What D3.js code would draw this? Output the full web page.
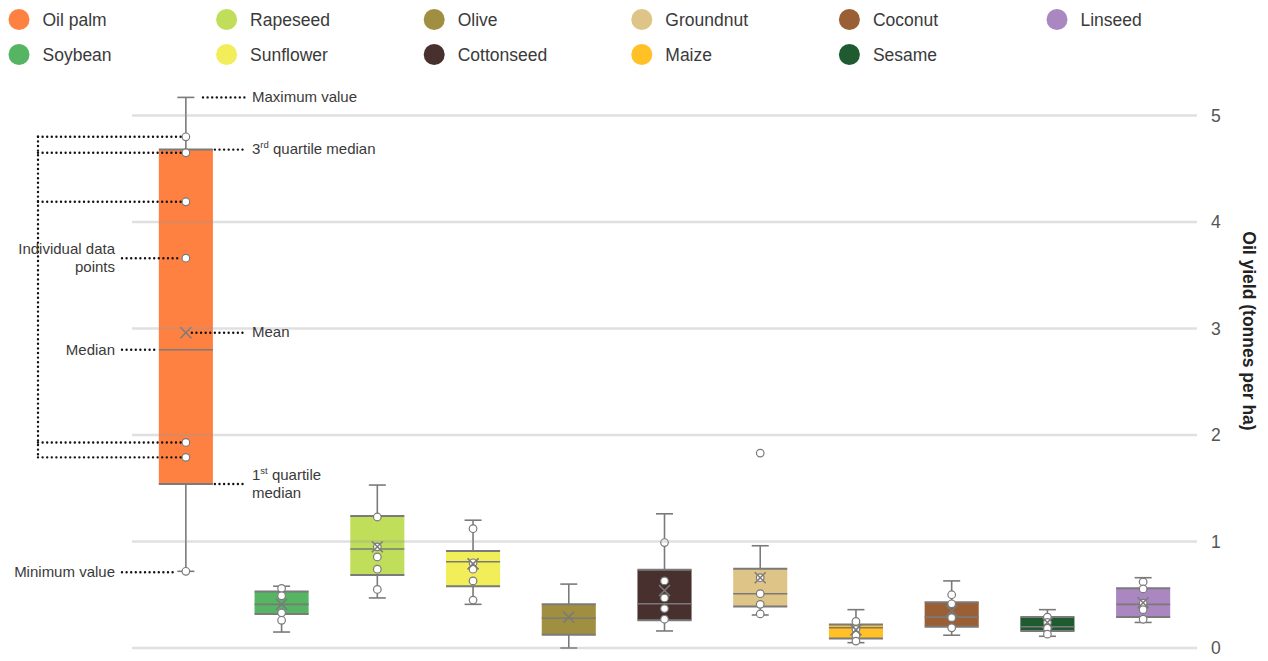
<!DOCTYPE html>
<html>
<head>
<meta charset="utf-8">
<script src="https://cdn.jsdelivr.net/npm/d3@7"></script>
<style>
  html, body { margin: 0; padding: 0; background: #fff; }
  svg { display: block; font-family: "Liberation Sans", Arial, sans-serif; }
</style>
</head>
<body>
<svg id="chart" width="1268" height="661"></svg>
<script>
// Oil crops and their yield distributions (tonnes of oil per hectare)
const categories = ["Oil palm", "Soybean", "Rapeseed", "Sunflower", "Olive", "Cottonseed",
                    "Groundnut", "Maize", "Coconut", "Sesame", "Linseed"];
const colors = ["#FF8142", "#55B563", "#C0DE5A", "#F2EE5A", "#A08F41", "#48302E",
                "#DEC487", "#FFC125", "#9A5F34", "#1F5A30", "#AB87C1"];
const mins    = [0.72, 0.15, 0.47, 0.41, 0.00, 0.16, 0.31, 0.05, 0.12, 0.11, 0.24];
const q1s     = [1.54, 0.32, 0.685, 0.58, 0.125, 0.26, 0.39, 0.09, 0.20, 0.16, 0.29];
const medians = [2.80, 0.41, 0.93, 0.81, 0.28, 0.415, 0.51, 0.19, 0.29, 0.20, 0.41];
const q3s     = [4.68, 0.53, 1.24, 0.91, 0.41, 0.735, 0.745, 0.22, 0.43, 0.29, 0.56];
const maxes   = [5.17, 0.58, 1.53, 1.20, 0.60, 1.26, 0.96, 0.36, 0.63, 0.36, 0.66];
const means   = [2.96, 0.41, 0.95, 0.79, 0.29, 0.54, 0.66, 0.17, 0.35, 0.24, 0.425];
const points  = [
  [4.80, 4.65, 4.19, 3.66, 1.93, 1.79, 0.72],
  [0.56, 0.49, 0.33, 0.26],
  [1.23, 0.95, 0.855, 0.74, 0.55],
  [1.12, 0.80, 0.74, 0.63, 0.45],
  [],
  [0.99, 0.63, 0.47, 0.37, 0.27],
  [1.83, 0.66, 0.51, 0.41, 0.32],
  [0.25, 0.175, 0.12, 0.065],
  [0.50, 0.415, 0.285, 0.19],
  [0.29, 0.24, 0.185, 0.13],
  [0.62, 0.555, 0.42, 0.36, 0.27]
];
const yTicks = [0, 1, 2, 3, 4, 5];
const legendRows = [
  ["Oil palm", "Rapeseed", "Olive", "Groundnut", "Coconut", "Linseed"],
  ["Soybean", "Sunflower", "Cottonseed", "Maize", "Sesame"]
];

const crops = categories.map((c, i) => ({
  name: c, color: colors[i], min: mins[i], q1: q1s[i], median: medians[i],
  q3: q3s[i], max: maxes[i], mean: means[i], points: points[i]
}));

const svg = d3.select("#chart");
const textColor = "#3a3a3a";
const markGrey = "#7a7a7a";

const x = d3.scaleBand().domain(categories).range([138, 1191])
  .paddingInner(0.435).paddingOuter(0.2175);
const y = d3.scaleLinear().domain([0, 5]).range([648, 115.5]);
const color = d3.scaleOrdinal().domain(categories).range(colors);

// ---- Legend ----
const legendX = d3.scalePoint().domain(d3.range(6)).range([19, 1057]);
const legendY = d3.scalePoint().domain([0, 1]).range([19.5, 54.5]);
legendRows.forEach((row, r) => {
  const g = svg.append("g").selectAll("g").data(row).join("g")
    .attr("transform", (d, i) => `translate(${legendX(i)},${legendY(r)})`);
  g.append("circle").attr("r", 10.5).attr("fill", d => color(d));
  g.append("text").attr("x", 23.5).attr("dy", "0.35em")
    .attr("font-size", 17.5).attr("fill", textColor).text(d => d);
});

// ---- Boxes ----
const bw = x.bandwidth();
const capW = 17;
const boxes = svg.append("g").selectAll("g").data(crops).join("g")
  .attr("transform", d => `translate(${x(d.name)},0)`);

// whiskers
boxes.append("line").attr("x1", bw / 2).attr("x2", bw / 2)
  .attr("y1", d => y(d.max)).attr("y2", d => y(d.q3))
  .attr("stroke", markGrey).attr("stroke-width", 1.6);
boxes.append("line").attr("x1", bw / 2).attr("x2", bw / 2)
  .attr("y1", d => y(d.q1)).attr("y2", d => y(d.min))
  .attr("stroke", markGrey).attr("stroke-width", 1.6);
boxes.append("line").attr("x1", bw / 2 - capW / 2).attr("x2", bw / 2 + capW / 2)
  .attr("y1", d => y(d.max)).attr("y2", d => y(d.max))
  .attr("stroke", markGrey).attr("stroke-width", 1.6);
boxes.append("line").attr("x1", bw / 2 - capW / 2).attr("x2", bw / 2 + capW / 2)
  .attr("y1", d => y(d.min)).attr("y2", d => y(d.min))
  .attr("stroke", markGrey).attr("stroke-width", 1.6);

// box body
boxes.append("rect").attr("x", 0).attr("width", bw)
  .attr("y", d => y(d.q3)).attr("height", d => y(d.q1) - y(d.q3))
  .attr("fill", d => d.color);
["q3", "q1"].forEach(k => {
  boxes.append("line").attr("x1", 0).attr("x2", bw)
    .attr("y1", d => y(d[k])).attr("y2", d => y(d[k]))
    .attr("stroke", markGrey).attr("stroke-width", 2);
});
boxes.append("line").attr("x1", 0).attr("x2", bw)
  .attr("y1", d => y(d.median)).attr("y2", d => y(d.median))
  .attr("stroke", markGrey).attr("stroke-width", 1.6);

// ---- Gridlines (drawn over the boxes, translucent) ----
svg.append("g").selectAll("line").data(yTicks).join("line")
  .attr("x1", 132).attr("x2", 1197)
  .attr("y1", d => y(d)).attr("y2", d => y(d))
  .attr("stroke", "#999").attr("stroke-opacity", 0.3).attr("stroke-width", 2.5);

// individual data points
boxes.selectAll("circle.pt").data(d => d.points).join("circle")
  .attr("class", "pt").attr("cx", bw / 2).attr("cy", v => y(v)).attr("r", 3.8)
  .attr("fill", "#fff").attr("stroke", markGrey).attr("stroke-width", 1.2);

// mean marker
const mx = 5.5;
boxes.append("path")
  .attr("d", d => `M${bw / 2 - mx},${y(d.mean) - mx}L${bw / 2 + mx},${y(d.mean) + mx}` +
                  `M${bw / 2 - mx},${y(d.mean) + mx}L${bw / 2 + mx},${y(d.mean) - mx}`)
  .attr("stroke", markGrey).attr("stroke-width", 1.5).attr("fill", "none");

// ---- Y axis on the right ----
const axis = d3.axisRight(y).tickValues(yTicks).tickFormat(d3.format("d"))
  .tickSize(0).tickPadding(0);
const ag = svg.append("g").attr("transform", "translate(1211,0)").call(axis);
ag.select(".domain").remove();
ag.selectAll("text").attr("font-size", 17.5).attr("fill", "#555")
  .attr("font-family", "'Liberation Sans', Arial, sans-serif");

svg.append("text")
  .attr("transform", "translate(1243,331) rotate(90)")
  .attr("text-anchor", "middle").attr("font-size", 17.5).attr("font-weight", "bold")
  .attr("fill", "#222").text("Oil yield (tonnes per ha)");

// ---- Annotations explaining the oil palm box ----
const op = crops[0];
const cx = x(op.name) + bw / 2;
const right = x(op.name) + bw;
const ann = svg.append("g");
const dotted = (x1, y1, x2, y2) => ann.append("line")
  .attr("x1", x1).attr("y1", y1).attr("x2", x2).attr("y2", y2)
  .attr("stroke", "#111").attr("stroke-width", 2.4)
  .attr("stroke-linecap", "round").attr("stroke-dasharray", "0 4.6");

// each line is a list of parts; a part is plain text or a superscript
const label = (tx, ty, anchor, lines) => {
  const t = ann.append("text").attr("x", tx).attr("y", ty)
    .attr("text-anchor", anchor).attr("font-size", 15).attr("fill", textColor);
  lines.forEach((ln, i) => {
    const row = t.append("tspan").attr("x", tx).attr("dy", i === 0 ? "0.35em" : "1.2em");
    let raised = false;
    ln.forEach(part => {
      if (part.sup) {
        row.append("tspan").attr("font-size", 9.5).attr("dy", -6).text(part.sup);
        raised = true;
      } else {
        const s = row.append("tspan").text(part.t);
        if (raised) { s.attr("dy", 6); raised = false; }
      }
    });
  });
};

// bracket linking the individual data points
const bracketX = 38;
const bracketPts = [op.points[0], op.points[1], op.points[2], op.points[4], op.points[5]];
dotted(bracketX, y(op.points[0]), bracketX, y(op.points[5]));
bracketPts.forEach(v => dotted(bracketX, y(v), cx - 5, y(v)));
dotted(122, y(op.points[3]), cx - 5, y(op.points[3]));
label(115, y(op.points[3]) - 9, "end", [[{t: "Individual data"}], [{t: "points"}]]);

dotted(203, y(op.max), 246, y(op.max));
label(252, y(op.max) - 1, "start", [[{t: "Maximum value"}]]);

dotted(right + 2, y(op.q3), 246, y(op.q3));
label(252, y(op.q3) - 1, "start", [[{t: "3"}, {sup: "rd"}, {t: " quartile median"}]]);

dotted(cx + 6, y(op.mean), 246, y(op.mean));
label(252, y(op.mean) - 1, "start", [[{t: "Mean"}]]);

dotted(122, y(op.median), 155, y(op.median));
label(115, y(op.median), "end", [[{t: "Median"}]]);

dotted(right + 2, y(op.q1), 246, y(op.q1));
label(252, y(op.q1) - 9, "start", [[{t: "1"}, {sup: "st"}, {t: " quartile"}], [{t: "median"}]]);

dotted(122, y(op.min) + 1, 176, y(op.min) + 1);
label(115, y(op.min), "end", [[{t: "Minimum value"}]]);
</script>
</body>
</html>
